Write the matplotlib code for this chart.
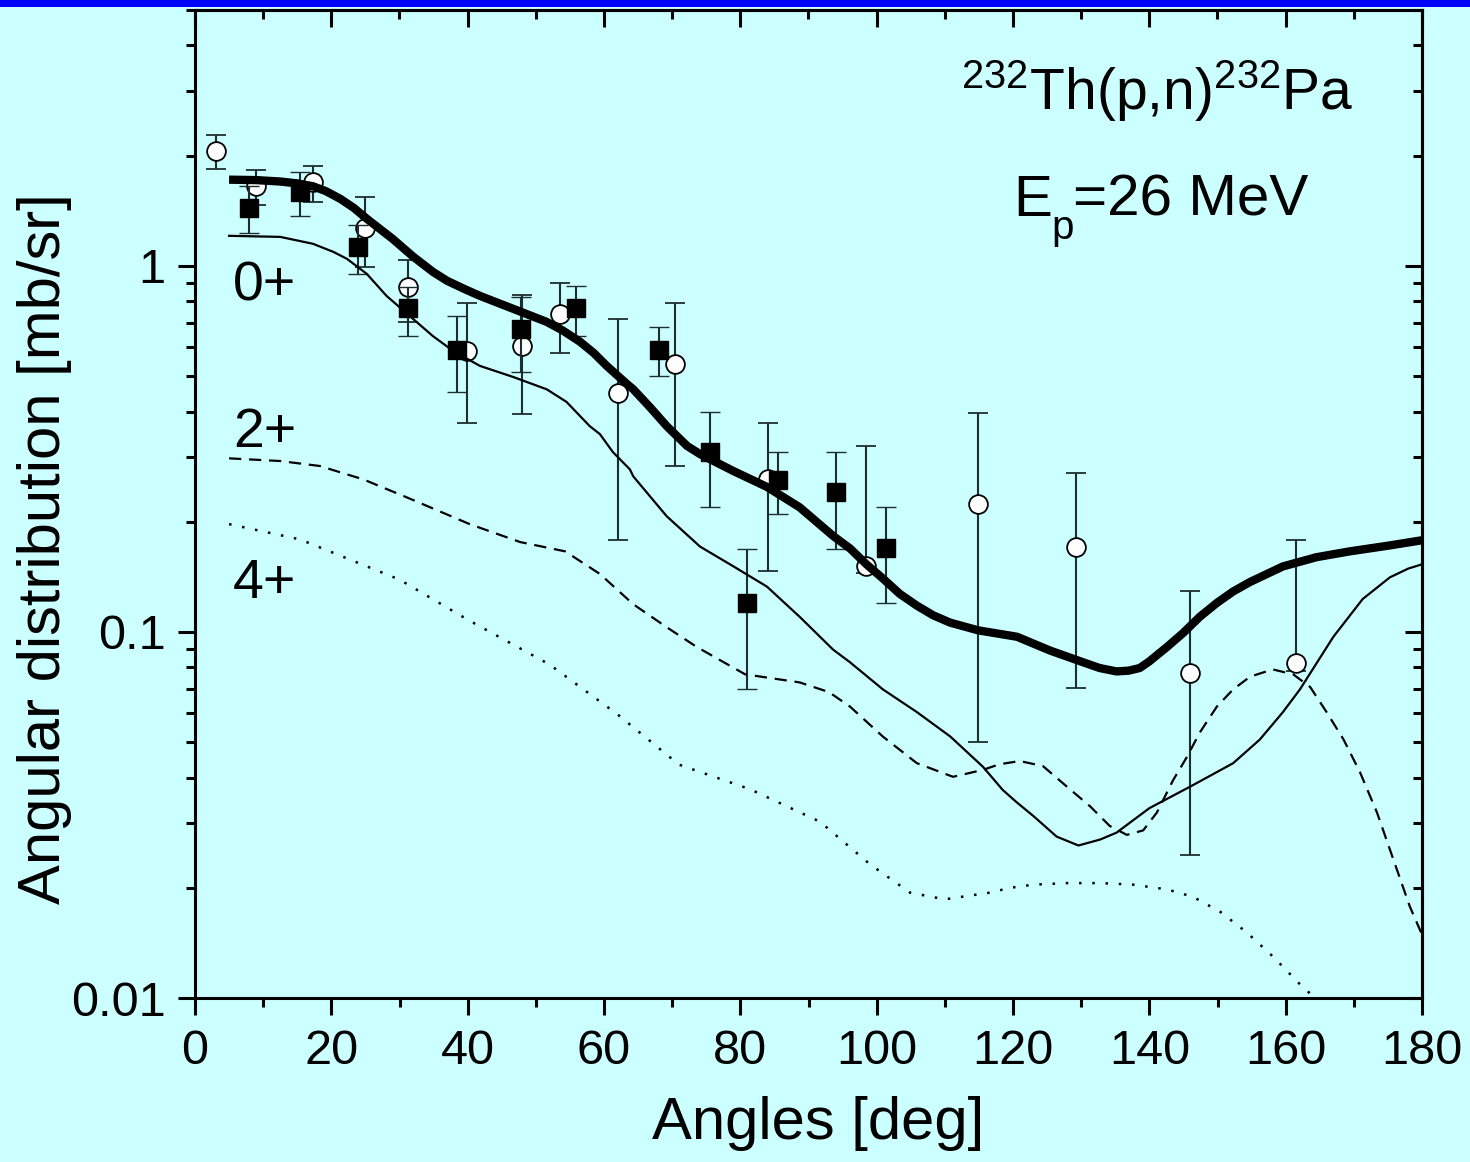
import matplotlib
matplotlib.use('Agg')
import matplotlib.pyplot as plt
import numpy as np
from matplotlib.patches import Rectangle
from matplotlib.ticker import MultipleLocator, FixedLocator, FixedFormatter, LogLocator, NullFormatter

plt.rcParams['font.family'] = ['Liberation Sans', 'DejaVu Sans']
plt.rcParams['mathtext.fontset'] = 'custom'
plt.rcParams['mathtext.rm'] = 'Liberation Sans'
plt.rcParams['mathtext.it'] = 'Liberation Sans:italic'
plt.rcParams['mathtext.bf'] = 'Liberation Sans:bold'

# ---------------- data ----------------
# total calculation (thick line)
tot_ang = [5, 9, 12.5, 15, 17.3, 19.2, 21.3, 23.3, 25.2, 29, 32, 34.9, 37, 39.5, 41.8, 46.7, 51.6,
           54, 56.5, 58.5, 60.4, 63.4, 64.3, 66.8, 69.2, 72.2, 74.1, 79, 83.9, 88.7, 93.6, 96.1,
           98.5, 100.9, 103.4, 105.9, 108.3, 110.8, 114.9, 120.6, 125.4, 130.3, 132.7, 135.2,
           137, 138.6, 140, 142.6, 145, 147.4, 149.9, 152.3, 154.8, 159.6, 164.5, 169.4, 175, 180]
tot_val = [1.72, 1.715, 1.70, 1.68, 1.65, 1.60, 1.525, 1.44, 1.345, 1.185, 1.06, 0.963, 0.91,
           0.865, 0.828, 0.763, 0.703, 0.665, 0.62, 0.578, 0.533, 0.475, 0.46, 0.41, 0.365, 0.322,
           0.306, 0.275, 0.249, 0.219, 0.183, 0.169, 0.153, 0.140, 0.127, 0.118, 0.111, 0.106,
           0.101, 0.097, 0.089, 0.0826, 0.0797, 0.078, 0.0784, 0.0797, 0.0831, 0.091, 0.0995,
           0.11, 0.12, 0.129, 0.137, 0.151, 0.160, 0.166, 0.172, 0.178]

# 0+ state (thin solid line)
g0_ang = [5, 12.5, 17.3, 20.3, 22.3, 25.2, 28.1, 32, 34.9, 37.9, 41.8, 46.7, 51.6, 54.5, 57.9,
          59.4, 61.3, 63.8, 64.3, 69.2, 74.1, 79, 83.9, 88.7, 93.6, 96.1, 100.9, 105.9, 110.8,
          115.6, 118.5, 120.5, 123, 126.4, 129.6, 132.8, 135.2, 140, 146, 152.3, 156.2, 159.6,
          162.1, 167, 171.3, 175.3, 178, 180]
g0_val = [1.208, 1.20, 1.149, 1.092, 1.045, 0.951, 0.828, 0.716, 0.643, 0.585, 0.533, 0.497,
          0.46, 0.425, 0.365, 0.347, 0.31, 0.278, 0.266, 0.207, 0.171, 0.151, 0.133, 0.110,
          0.0895, 0.0826, 0.0697, 0.0604, 0.0518, 0.0428, 0.037, 0.0343, 0.0314, 0.0276,
          0.0261, 0.0271, 0.0283, 0.0330, 0.0378, 0.0438, 0.0508, 0.0604, 0.0697, 0.097,
          0.123, 0.141, 0.149, 0.153]

# 2+ state (dashed line)
g2_ang = [5, 12.5, 18.3, 24.7, 31.1, 40.3, 47.7, 54.3, 59.4, 64.3, 69.2, 73.6, 80.7, 88.7, 93,
          96.1, 100.9, 105.9, 111.2, 115.6, 118, 121, 124.4, 127.9, 131.3, 134.2, 136.7, 139.1,
          141.1, 143.5, 145.5, 147.4, 149.9, 152.3, 154.8, 158.1, 161.1, 163.6, 166, 168.5,
          170.9, 173.4, 175.8, 178.2, 180]
g2_val = [0.298, 0.293, 0.284, 0.261, 0.233, 0.197, 0.176, 0.166, 0.144, 0.119, 0.103, 0.091,
          0.0766, 0.0728, 0.0685, 0.0625, 0.0518, 0.0438, 0.0402, 0.042, 0.0435, 0.0444,
          0.0430, 0.0378, 0.0334, 0.0295, 0.0279, 0.0287, 0.0321, 0.0394, 0.0455, 0.0531,
          0.0625, 0.0697, 0.0755, 0.079, 0.0766, 0.0707, 0.0604, 0.0508, 0.0414, 0.0321,
          0.0239, 0.0178, 0.0149]

# 4+ state (dotted line)
g4_ang = [5, 15.4, 30, 40, 52, 62, 71, 81.4, 91.7, 99, 104.9, 110, 116.6, 119.6, 123, 127.9,
          132.8, 137.6, 142.6, 146.4, 150.4, 154.3, 158.1, 162.1, 163.8, 166]
g4_val = [0.197, 0.179, 0.139, 0.108, 0.0815, 0.0595, 0.0434, 0.0372, 0.0303, 0.0232, 0.0194,
          0.0186, 0.0194, 0.0200, 0.0204, 0.0206, 0.0206, 0.0204, 0.0198, 0.0189, 0.0172,
          0.0151, 0.0130, 0.0109, 0.0102, 0.0092]

# experimental data set 1: open circles
c_ang = [3.1, 8.9, 17.3, 24.9, 31.3, 39.9, 48.0, 53.5, 62.1, 70.4, 84.0, 98.4, 114.9, 129.2, 146.0, 161.5]
c_val = [2.06, 1.65, 1.70, 1.27, 0.876, 0.585, 0.604, 0.739, 0.449, 0.539, 0.261, 0.151, 0.223, 0.171, 0.077, 0.082]
c_lo = [1.84, 1.47, 1.49, 0.99, 0.703, 0.372, 0.394, 0.578, 0.178, 0.284, 0.147, 0.145, 0.0499, 0.0705, 0.0246, 0.078]
c_hi = [2.28, 1.83, 1.88, 1.54, 1.04, 0.792, 0.833, 0.899, 0.716, 0.792, 0.372, 0.322, 0.397, 0.271, 0.129, 0.178]

# experimental data set 2: filled squares
s_ang = [7.9, 15.4, 23.9, 31.3, 38.5, 47.8, 55.9, 68.1, 75.5, 81.0, 85.5, 94.0, 101.4]
s_val = [1.44, 1.59, 1.127, 0.768, 0.589, 0.672, 0.768, 0.589, 0.310, 0.120, 0.260, 0.241, 0.170]
s_lo = [1.23, 1.37, 0.951, 0.643, 0.452, 0.513, 0.643, 0.50, 0.219, 0.070, 0.21, 0.169, 0.120]
s_hi = [1.65, 1.81, 1.29, 0.876, 0.730, 0.823, 0.882, 0.681, 0.399, 0.169, 0.310, 0.310, 0.219]

x_ticks = [0, 20, 40, 60, 80, 100, 120, 140, 160, 180]
y_ticks = [0.01, 0.1, 1]
y_ticklabels = ['0.01', '0.1', '1']

# ---------------- figure ----------------
BG = '#CCFFFF'
W, H = 1470, 1162
fig = plt.figure(figsize=(W / 100, H / 100), dpi=100, facecolor=BG)
ax = fig.add_axes([195 / W, 1 - 998 / H, (1422 - 195) / W, (998 - 10) / H])
ax.set_facecolor(BG)
fig.patches.append(Rectangle((0, 1 - 7 / H), 1, 7 / H, transform=fig.transFigure,
                             facecolor='#0000FF', edgecolor='none', zorder=10))

ax.set_yscale('log')
ax.set_xlim(0, 180)
ax.set_ylim(0.01, 5)

ecol = '#1e2e2e'
c_val_a = np.array(c_val); s_val_a = np.array(s_val)
ax.errorbar(c_ang, c_val, yerr=[c_val_a - np.array(c_lo), np.array(c_hi) - c_val_a],
            fmt='o', ms=13.5, mfc='white', mec='black', mew=1.3, ecolor=ecol,
            elinewidth=1.5, capsize=7, capthick=1.5, zorder=3)
ax.errorbar(s_ang, s_val, yerr=[s_val_a - np.array(s_lo), np.array(s_hi) - s_val_a],
            fmt='s', ms=12.5, mfc='black', mec='black', mew=1, ecolor=ecol,
            elinewidth=1.5, capsize=7, capthick=1.5, zorder=4)

ax.plot(g4_ang, g4_val, color='black', lw=1.8, linestyle=(0, (1, 4.3)), zorder=5)
ax.plot(g2_ang, g2_val, color='black', lw=1.6, linestyle=(0, (5.5, 3.5)), zorder=5)
ax.plot(g0_ang, g0_val, color='black', lw=1.6, zorder=5, solid_joinstyle='round')
ax.plot(tot_ang, tot_val, color='black', lw=6, zorder=6, solid_capstyle='butt',
        solid_joinstyle='round')

# labels of curves
ax.text(5.6, 0.802, '0+', fontsize=40, ha='left', va='baseline')
ax.text(5.6, 0.320, '2+', fontsize=40, ha='left', va='baseline')
ax.text(5.6, 0.124, '4+', fontsize=40, ha='left', va='baseline')

ax.text(141.1, 2.66, r'$^{232}$Th(p,n)$^{232}$Pa', fontsize=41, ha='center', va='baseline')
ax.text(120.0, 1.37, 'E', fontsize=42, ha='left', va='baseline')
ax.text(125.7, 1.186, 'p', fontsize=29, ha='left', va='baseline')
ax.text(128.8, 1.37, '=26 MeV', fontsize=42, ha='left', va='baseline')

# ticks
ax.xaxis.set_major_locator(FixedLocator(x_ticks))
ax.xaxis.set_minor_locator(MultipleLocator(10))
ax.yaxis.set_major_locator(FixedLocator(y_ticks))
ax.yaxis.set_major_formatter(FixedFormatter(y_ticklabels))
ax.yaxis.set_minor_locator(LogLocator(base=10, subs=np.arange(2, 10), numticks=20))
ax.yaxis.set_minor_formatter(NullFormatter())
ax.tick_params(which='both', direction='out', top=False, right=False, width=2.2, labelsize=35)
ax.tick_params(which='major', length=12)
ax.tick_params(which='minor', length=6.5)
ax.tick_params(axis='x', pad=10)
ax.tick_params(axis='y', pad=9)
for sp in ax.spines.values():
    sp.set_linewidth(2.2)

secx = ax.secondary_xaxis('top')
secx.xaxis.set_major_locator(FixedLocator(x_ticks))
secx.xaxis.set_minor_locator(MultipleLocator(10))
secx.tick_params(which='both', direction='in', width=2.2, labeltop=False)
secx.tick_params(which='major', length=12)
secx.tick_params(which='minor', length=6.5)
secx.spines['top'].set_linewidth(2.2)

secy = ax.secondary_yaxis('right')
secy.yaxis.set_major_locator(FixedLocator(y_ticks))
secy.yaxis.set_minor_locator(LogLocator(base=10, subs=np.arange(2, 10), numticks=20))
secy.yaxis.set_minor_formatter(NullFormatter())
secy.tick_params(which='both', direction='in', width=2.2, labelright=False)
secy.tick_params(which='major', length=12)
secy.tick_params(which='minor', length=6.5)
secy.spines['right'].set_linewidth(2.2)

ax.set_xlabel('Angles [deg]', fontsize=43)
ax.set_ylabel('Angular distribution [mb/sr]', fontsize=43)
ax.xaxis.set_label_coords((818 - 195) / 1227, -0.099)
ax.yaxis.set_label_coords(-0.100, 0.455)

fig.savefig('out.png', dpi=100, facecolor=BG)
